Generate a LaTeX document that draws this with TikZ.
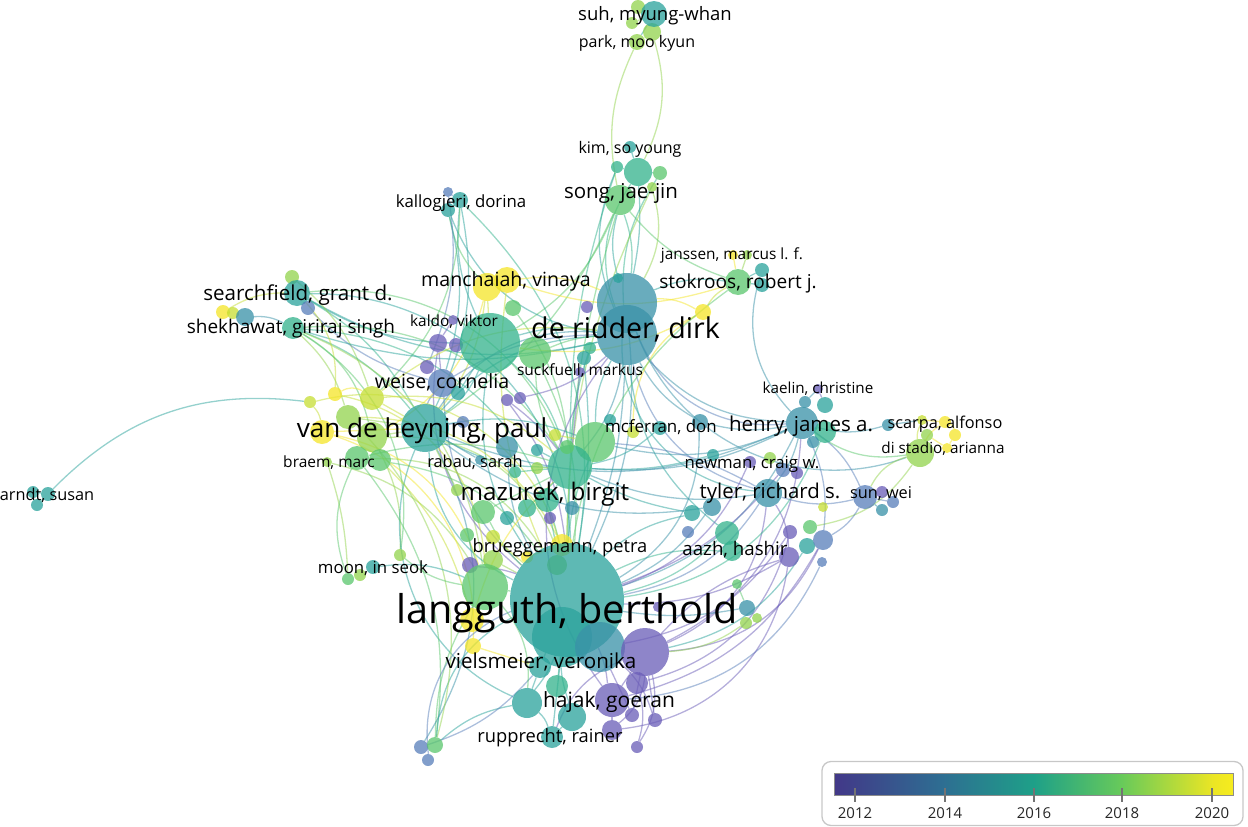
\documentclass[tikz,border=0pt]{standalone}
\usepackage{fontspec}
\setmainfont{Open Sans}
\pgfdeclarelayer{bg}
\pgfsetlayers{bg,main}
\definecolor{c12}{HTML}{6B5EB8}
\definecolor{c13}{HTML}{5A80BA}
\definecolor{c14}{HTML}{3A92A8}
\definecolor{c15}{HTML}{2CA39C}
\definecolor{c16}{HTML}{34B38D}
\definecolor{c17}{HTML}{5CC76E}
\definecolor{c18}{HTML}{93D34F}
\definecolor{c19}{HTML}{C6DE35}
\definecolor{c20}{HTML}{F4E52A}
\definecolor{v0}{RGB}{66,56,136}
\definecolor{v1}{RGB}{46,110,146}
\definecolor{v2}{RGB}{30,160,136}
\definecolor{v3}{RGB}{104,202,90}
\definecolor{v4}{RGB}{236,230,36}
\definecolor{v5}{RGB}{246,236,30}
\pgfdeclarehorizontalshading{viridisbar}{100bp}{color(0bp)=(v0); color(25bp)=(v0); color(38.5bp)=(v1); color(50bp)=(v2); color(61bp)=(v3); color(72.5bp)=(v4); color(75bp)=(v5); color(100bp)=(v5)}
\tikzset{
  nd/.style={circle,inner sep=0pt,fill opacity=0.76,draw=none},
  ed/.style={line width=1.3pt,draw opacity=0.5},
  lbl/.style={anchor=base,inner sep=0pt,text=black},
  tick/.style={draw=black!55,line width=1.4pt},
  yr/.style={anchor=base,inner sep=0pt,font=\fontsize{15}{15}\selectfont,text=black!85}
}
\newcommand\nd[5]{\node[nd,fill=#4,minimum size=#5pt] (#1) at (#2,#3) {};}
\newcommand\lb[5]{\node[lbl,font=\fontsize{#4}{#4}\selectfont] (#1) at (#2,#3) {#5};}
\begin{document}
\begin{tikzpicture}[x=1pt,y=-1pt]
\useasboundingbox (0,0) rectangle (1248,827);
% ---------------- nodes ----------------
\nd{suhB}{638}{7}{c18}{14}
\nd{suhC}{632}{23}{c18}{12}
\nd{suhD}{652}{32}{c18}{18}
\nd{suhA}{654}{14}{c15}{26}
\nd{park}{637}{42}{c18}{16}
\nd{kim}{630}{147}{c15}{12}
\nd{songC}{617}{167}{c16}{12}
\nd{songD}{660}{173}{c17}{14}
\nd{songA}{638}{172}{c16}{28}
\nd{songB}{620}{200}{c17}{30}
\nd{songE}{652}{187}{c18}{10}
\nd{kalA}{448}{192}{c13}{10}
\nd{kalB}{460}{200}{c15}{16}
\nd{kalC}{448}{210}{c15}{14}
\nd{seaB}{292}{277}{c18}{14}
\nd{seaA}{297}{293}{c15}{26}
\nd{seaC}{308}{308}{c13}{14}
\nd{shek}{293}{328}{c16}{22}
\nd{shA}{223}{312}{c20}{14}
\nd{shB}{233}{313}{c19}{12}
\nd{shC}{245}{317}{c14}{18}
\nd{manA}{487}{287}{c20}{28}
\nd{manB}{507}{280}{c20}{26}
\nd{manC}{513}{308}{c17}{16}
\nd{kalD}{453}{320}{c12}{10}
\nd{kalE}{438}{343}{c12}{18}
\nd{kalF}{456}{345}{c12}{14}
\nd{bigG}{490}{343}{c16}{60}
\nd{grn1}{535}{353}{c17}{32}
\nd{pur1}{427}{367}{c12}{14}
\nd{weise}{442}{383}{c13}{28}
\nd{wA}{458}{393}{c15}{14}
\nd{pur2}{507}{400}{c12}{12}
\nd{pur3}{520}{398}{c12}{12}
\nd{yl1}{372}{398}{c19}{24}
\nd{yl2}{335}{394}{c20}{14}
\nd{yl3}{310}{402}{c19}{12}
\nd{yl4}{348}{417}{c18}{24}
\nd{yl5}{322}{432}{c20}{24}
\nd{yl6}{372}{437}{c18}{30}
\nd{yl7}{357}{458}{c17}{24}
\nd{yl8}{380}{460}{c17}{22}
\nd{yl9}{327}{462}{c18}{10}
\nd{vdh}{425}{428}{c15}{48}
\nd{vA}{463}{422}{c13}{12}
\nd{vB}{507}{447}{c14}{22}
\nd{vC}{537}{450}{c15}{12}
\nd{vD}{555}{435}{c19}{12}
\nd{drA}{627}{303}{c14}{60}
\nd{drB}{627}{335}{c14}{60}
\nd{drC}{618}{278}{c15}{10}
\nd{drD}{587}{307}{c12}{12}
\nd{drE}{590}{348}{c16}{12}
\nd{drF}{584}{358}{c15}{14}
\nd{suck}{580}{372}{c12}{10}
\nd{jaA}{733}{255}{c20}{10}
\nd{jaB}{747}{255}{c18}{10}
\nd{stA}{762}{270}{c15}{14}
\nd{stB}{762}{285}{c15}{14}
\nd{stok}{738}{282}{c17}{26}
\nd{ylw}{703}{312}{c20}{16}
\nd{mcA}{610}{420}{c15}{12}
\nd{mcB}{633}{432}{c19}{12}
\nd{mcC}{660}{428}{c15}{14}
\nd{mcD}{700}{422}{c14}{16}
\nd{bgG}{595}{442}{c17}{40}
\nd{maz}{570}{467}{c16}{44}
\nd{mzA}{567}{447}{c17}{14}
\nd{mzB}{515}{472}{c16}{12}
\nd{mzC}{537}{468}{c18}{12}
\nd{rab}{480}{460}{c14}{10}
\nd{mzD}{457}{490}{c18}{12}
\nd{mzE}{483}{512}{c17}{24}
\nd{mzF}{507}{518}{c15}{14}
\nd{mzG}{527}{508}{c16}{18}
\nd{mzH}{547}{500}{c16}{24}
\nd{mzI}{572}{508}{c14}{14}
\nd{mzJ}{550}{518}{c12}{12}
\nd{bruA}{467}{535}{c17}{14}
\nd{bruB}{493}{537}{c19}{14}
\nd{bru}{562}{545}{c20}{22}
\nd{bruC}{527}{557}{c20}{12}
\nd{bruD}{493}{560}{c18}{20}
\nd{bruE}{470}{565}{c12}{16}
\nd{moonA}{400}{555}{c18}{12}
\nd{moonB}{373}{567}{c15}{14}
\nd{moonC}{360}{575}{c18}{12}
\nd{moonD}{348}{579}{c17}{12}
\nd{lgA}{485}{587}{c17}{46}
\nd{lgB}{557}{565}{c18}{20}
\nd{ly1}{472}{620}{c20}{24}
\nd{ly2}{473}{646}{c20}{16}
\nd{lang}{567}{600}{c15}{114}
\nd{lgC}{562}{637}{c15}{60}
\nd{lgD}{600}{647}{c14}{50}
\nd{vie}{540}{667}{c15}{22}
\nd{vpur}{645}{652}{c12}{48}
\nd{vp2}{658}{607}{c12}{10}
\nd{kae}{818}{389}{c12}{10}
\nd{heB}{805}{402}{c14}{12}
\nd{heC}{825}{405}{c15}{16}
\nd{hen}{802}{423}{c14}{32}
\nd{heA}{825}{432}{c16}{22}
\nd{heD}{813}{442}{c14}{12}
\nd{nwA}{713}{455}{c15}{12}
\nd{nwB}{750}{462}{c12}{12}
\nd{nwC}{770}{458}{c18}{12}
\nd{nwD}{783}{470}{c13}{14}
\nd{nwE}{797}{473}{c12}{12}
\nd{tyl}{768}{493}{c14}{28}
\nd{tyA}{712}{507}{c14}{18}
\nd{tyB}{692}{513}{c15}{16}
\nd{tyC}{823}{507}{c19}{10}
\nd{sun}{865}{497}{c13}{24}
\nd{suA}{882}{492}{c12}{12}
\nd{suB}{882}{510}{c14}{12}
\nd{suC}{893}{502}{c13}{12}
\nd{scA}{888}{425}{c14}{12}
\nd{scB}{922}{420}{c19}{10}
\nd{scC}{927}{435}{c18}{12}
\nd{scD}{945}{422}{c20}{12}
\nd{scE}{955}{435}{c20}{12}
\nd{scF}{947}{448}{c20}{10}
\nd{dis}{920}{453}{c18}{28}
\nd{aaA}{688}{532}{c13}{12}
\nd{aaB}{727}{533}{c16}{24}
\nd{aaC}{732}{551}{c16}{20}
\nd{aaD}{790}{532}{c12}{14}
\nd{aaE}{789}{557}{c12}{20}
\nd{aaF}{810}{527}{c17}{14}
\nd{aaG}{807}{546}{c15}{16}
\nd{aaH}{823}{540}{c13}{20}
\nd{aaI}{822}{562}{c13}{10}
\nd{aaJ}{737}{584}{c17}{10}
\nd{aaK}{747}{608}{c14}{16}
\nd{aaL}{746}{623}{c18}{12}
\nd{aaM}{757}{618}{c18}{10}
\nd{hjA}{527}{703}{c15}{30}
\nd{hjB}{557}{686}{c16}{22}
\nd{hjC}{572}{717}{c15}{28}
\nd{hjD}{612}{700}{c12}{34}
\nd{hjE}{637}{683}{c12}{22}
\nd{hjF}{632}{715}{c12}{14}
\nd{hjG}{655}{720}{c12}{14}
\nd{hjH}{612}{730}{c12}{20}
\nd{hjI}{637}{747}{c12}{12}
\nd{rup}{552}{737}{c15}{22}
\nd{blA}{421}{747}{c13}{14}
\nd{blB}{435}{745}{c17}{16}
\nd{blC}{428}{760}{c13}{12}
\nd{arA}{33}{492}{c15}{12}
\nd{arB}{48}{494}{c15}{14}
\nd{arC}{37}{505}{c15}{12}
% ---------------- edges ----------------
\begin{pgfonlayer}{bg}
\draw[ed,draw=c15] (arB) to[bend left=26] (yl3);
\foreach \a/\b/\c/\s in {
 park/songB/c18/-12, suhD/songA/c18/14, kim/songA/c15/0,
 songB/drA/c16/8, songB/drA/c15/-10, songA/drA/c15/5, songC/drB/c15/-15, songA/drB/c16/-18,
 songB/lang/c17/-5, songE/drA/c18/15, songB/bigG/c17/12, songB/vdh/c17/10, songB/stok/c17/-10, songC/maz/c16/-6,
 songD/drB/c16/-12, songE/lang/c18/-8,
 kalB/vdh/c15/12, kalB/bigG/c15/-10, kalC/manA/c17/-10, kalC/weise/c15/10, kalA/pur1/c13/10, kalB/lang/c16/18, kalC/drB/c15/-20, kalB/yl1/c17/15,
 manA/bigG/c19/0, manB/drA/c20/10, manA/vdh/c19/10, manB/lang/c19/-10, manC/maz/c17/10, manA/yl6/c20/15, manB/stok/c20/-12,
 seaA/bigG/c15/-10, seaA/drB/c15/-14, seaA/vdh/c16/10, seaB/yl1/c18/10, shek/vdh/c16/10, shek/yl6/c17/15, shek/maz/c17/20,
 shek/lang/c16/25, shC/shek/c14/10, shA/seaA/c19/10, shek/lgA/c18/20, seaC/weise/c13/-10, shek/drB/c15/-10, seaA/maz/c17/25,
 shek/yl4/c18/10, seaA/yl2/c19/15, shek/moonA/c17/22, seaA/lang/c15/30,
 kalE/weise/c12/0, kalF/bigG/c12/0, pur1/weise/c12/0, weise/vdh/c13/-10, weise/lang/c13/-15, weise/drB/c13/10, pur2/maz/c12/5,
 pur3/drB/c12/-10, kalD/kalE/c12/0, bigG/vdh/c15/10, bigG/drB/c15/8, bigG/lang/c15/-15, bigG/maz/c16/10, grn1/drB/c17/6,
 grn1/maz/c17/-10, grn1/lang/c17/10, kalE/lang/c12/-20, pur2/lang/c12/10,
 vdh/lang/c15/-20, vdh/maz/c15/-10, vdh/drB/c15/15, vdh/yl6/c18/0, yl1/vdh/c19/0, yl4/vdh/c18/0, yl5/vdh/c20/0, yl7/lang/c18/20,
 yl8/lang/c17/15, yl6/lang/c18/25, yl5/lgA/c20/20, yl2/yl1/c20/20, yl3/yl5/c19/10, yl9/lgA/c18/15, yl7/maz/c17/10, vB/lang/c14/-10,
 vdh/bgG/c15/10, yl1/drB/c19/15, yl6/moonA/c18/10, yl8/ly1/c19/10, yl5/ly2/c20/25, vdh/hjA/c15/-30, yl3/lang/c19/30, yl4/bru/c19/20,
 yl1/maz/c19/15, yl2/lgA/c19/25, yl9/moonD/c18/5,
 blB/yl7/c17/-15, blB/lgA/c17/10, blA/vdh/c14/-20, blB/lang/c15/20, blB/hjA/c15/10, blA/vie/c13/-10, blB/yl4/c18/-20, blC/lang/c13/25,
 drB/lang/c14/6, drA/lang/c14/10, drB/maz/c14/10, drB/hen/c14/-15, drB/tyl/c13/-20, drA/stok/c15/10, drB/bgG/c15/-10, drA/hen/c13/-25,
 drB/aaB/c15/-15, drB/mcD/c14/-10, ylw/drA/c20/-10, ylw/mcB/c20/-20, ylw/stok/c19/10, ylw/bigG/c20/12, suck/maz/c12/0, drB/hjD/c12/-25,
 drA/tyl/c15/-30, drB/vdh/c14/-20, drF/lang/c15/5, drE/maz/c16/-5, drC/drA/c15/0, drA/dis/c14/-30,
 stok/jaA/c20/0, stok/jaB/c18/0, stok/stA/c15/0, stok/stB/c15/0, stok/lang/c17/-15, stA/hen/c14/-20,
 hen/lang/c14/15, hen/tyl/c14/8, hen/scA/c14/-10, hen/dis/c17/-15, hen/heA/c15/0, heC/kae/c12/0, hen/maz/c14/10, hen/mcD/c14/8,
 tyl/lang/c13/15, tyl/sun/c13/-10, tyl/maz/c14/10, tyl/aaE/c12/10, sun/dis/c18/15, sun/hen/c13/-10, dis/scC/c19/0, dis/scD/c20/10,
 scD/scE/c20/20, dis/aaF/c18/15, hen/aaH/c13/10, tyl/vpur/c12/20, nwD/lang/c12/10, nwA/maz/c15/6, hen/vpur/c12/20, heB/kae/c14/0,
 hen/bgG/c14/12, tyl/bgG/c13/-8, sun/aaH/c13/10, dis/scB/c19/10, nwB/lang/c12/15, heA/lang/c16/20, hen/vdh/c14/15,
 aaB/lang/c16/10, aaC/lang/c16/-10, aaE/lang/c12/10, aaE/vpur/c12/-10, aaH/vpur/c12/20, aaK/lang/c14/6, aaJ/aaK/c17/0, aaB/aaC/c16/0,
 aaD/lgD/c12/15, aaH/hjD/c12/15, tyA/lang/c14/10, tyB/maz/c15/6, aaL/vpur/c18/10, aaD/hjE/c12/20, aaG/vpur/c15/15, aaI/hjD/c13/20,
 aaE/hjH/c12/25, tyA/vdh/c14/15, tyB/lang/c15/-10,
 lang/hjA/c15/6, lang/hjC/c15/-6, lang/hjD/c12/6, lang/rup/c15/0, lang/vie/c15/0, vpur/hjD/c12/0, vpur/hjE/c12/0, hjD/hjH/c12/0,
 hjC/rup/c15/0, hjA/rup/c15/10, vpur/hjH/c12/15, hjE/hjI/c12/10, lgD/hjF/c12/0, lgD/hjG/c12/10, lang/maz/c15/0, lang/bgG/c16/6,
 lang/bru/c19/0, lang/lgA/c17/0, lang/mzH/c16/0, lang/mzE/c17/6, lgA/moonA/c17/10, moonB/lgA/c15/10, moonD/yl7/c17/15,
 ly1/lgA/c20/0, ly2/vie/c20/0, maz/bgG/c16/0, maz/mzH/c16/0, bru/bruC/c20/0, vie/hjA/c15/0, hjB/lang/c16/0, vpur/hjG/c12/0,
 hjI/vpur/c12/-15, hjF/vpur/c12/0, rup/vpur/c12/15, hjA/lgA/c17/-15, ly1/maz/c20/10, bruD/lang/c18/0, bruE/lang/c12/5,
 mzE/maz/c17/0, mzG/maz/c16/0, mzD/vdh/c18/0, rab/vdh/c14/0, mzB/maz/c16/0, mzC/maz/c18/0, mzA/bgG/c17/0, mcA/bgG/c15/0,
 mcC/maz/c15/10, mcD/lang/c14/20, vA/vdh/c13/0, wA/bigG/c15/0, bruA/lgA/c17/0, bruB/lang/c19/0, vC/maz/c15/0, vD/bgG/c19/0,
 arA/arB/c15/0, arC/arB/c15/0, suhA/park/c15/0, suhB/suhA/c18/0, suhC/suhA/c18/0, suhD/park/c18/0,
 songD/songA/c16/0, songC/songA/c16/0, seaB/seaA/c18/0, seaC/seaA/c13/0, shA/shB/c19/0, shB/shC/c19/0, kalA/kalB/c13/0,
 scA/scB/c14/0, scB/scD/c20/0, scE/scF/c20/0, scC/scF/c20/0, suA/sun/c12/0, suB/sun/c14/0, suC/sun/c13/0
}{\pgfmathsetmacro\bb{1.5*\s}\draw[ed,draw=\c] (\a) to[bend left=\bb] (\b);}
\end{pgfonlayer}
% ---------------- labels ----------------
\lb{Lsuh}{655}{20}{18.5}{suh, myung-whan}
\lb{Lpark}{637}{47}{16}{park, moo kyun}
\lb{Lkim}{630}{153}{16}{kim, so young}
\lb{Lsong}{621}{198}{20.5}{song, jae-jin}
\lb{Lkal}{461}{207}{16.8}{kallogjeri, dorina}
\lb{Lman}{506}{286}{19.6}{manchaiah, vinaya}
\lb{Ljan}{732}{259}{15.4}{janssen, marcus l. f.}
\lb{Lstok}{738}{288}{19.1}{stokroos, robert j.}
\lb{Lsea}{298}{300}{20.6}{searchfield, grant d.}
\lb{Lshek}{291}{333}{19}{shekhawat, giriraj singh}
\lb{Lkaldo}{454}{326}{15.4}{kaldo, viktor}
\lb{Ldr}{625.5}{338}{28.6}{de ridder, dirk}
\lb{Lsuck}{580}{375}{15.5}{suckfuell, markus}
\lb{Lweise}{442}{388}{19.6}{weise, cornelia}
\lb{Lkae}{818}{393}{15.2}{kaelin, christine}
\lb{Lvdh}{422}{437}{26.1}{van de heyning, paul}
\lb{Lmcf}{661}{432}{16.9}{mcferran, don}
\lb{Lhen}{801}{431}{20.5}{henry, james a.}
\lb{Lsca}{945}{428}{16.3}{scarpa, alfonso}
\lb{Ldis}{943}{453}{15.3}{di stadio, arianna}
\lb{Lbraem}{329}{467}{15.5}{braem, marc}
\lb{Lrabau}{475}{467}{16.4}{rabau, sarah}
\lb{Lnew}{752}{468}{16.8}{newman, craig w.}
\lb{Lmaz}{545}{500}{24.2}{mazurek, birgit}
\lb{Ltyl}{770}{498}{20.4}{tyler, richard s.}
\lb{Lsun}{881}{498}{16.3}{sun, wei}
\lb{Larndt}{47}{500}{16.3}{arndt, susan}
\lb{Lbru}{560}{552}{18.3}{brueggemann, petra}
\lb{Laazh}{735}{555}{18.7}{aazh, hashir}
\lb{Lmoon}{373}{573}{16.8}{moon, in seok}
\lb{Llang}{567}{623}{39.6}{langguth, berthold}
\lb{Lvie}{541}{668}{20.6}{vielsmeier, veronika}
\lb{Lhaj}{609}{707}{21}{hajak, goeran}
\lb{Lrup}{550}{742}{18.3}{rupprecht, rainer}
% ---------------- legend ----------------
\node[draw=black!22,line width=1.3pt,rounded corners=9pt,minimum width=421pt,minimum height=64pt,inner sep=0pt] (legbox) at (1032.5,793.5) {};
\node[inner sep=0pt,minimum width=399pt,minimum height=22pt,shading=viridisbar,draw=black!45,line width=0.8pt] (bar) at (1034,784) {};
\coordinate (t1) at (855,788); \coordinate (t2) at (945,788); \coordinate (t3) at (1034,788);
\coordinate (t4) at (1122,788); \coordinate (t5) at (1212,788);
\foreach \t in {t1,t2,t3,t4,t5}{\draw[tick] (\t) -- ++(0,14);}
\node[yr] (y12) at (855,818) {2012};
\node[yr] (y14) at (945,818) {2014};
\node[yr] (y16) at (1034,818) {2016};
\node[yr] (y18) at (1122,818) {2018};
\node[yr] (y20) at (1212,818) {2020};
\end{tikzpicture}
\end{document}
